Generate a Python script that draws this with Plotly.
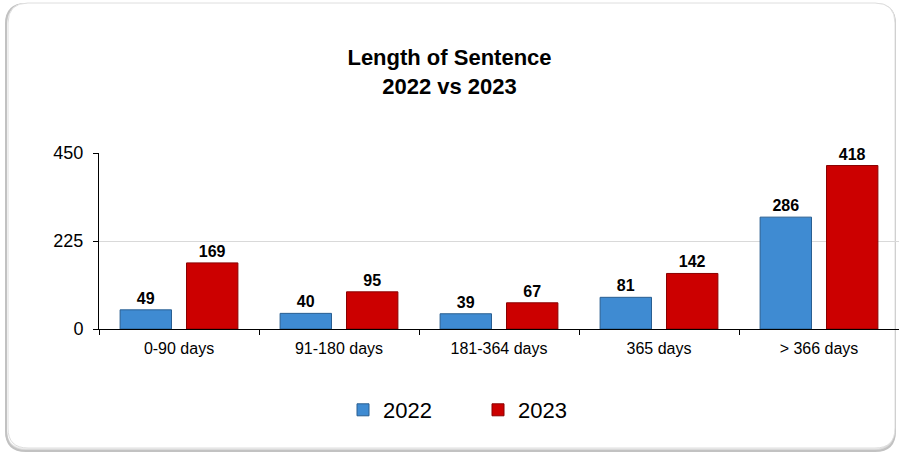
import plotly.graph_objects as go

categories = ["0-90 days", "91-180 days", "181-364 days", "365 days", "> 366 days"]
values_2022 = [49, 40, 39, 81, 286]
values_2023 = [169, 95, 67, 142, 418]
y_ticks = [0, 225, 450]

W, H = 899, 455
ML, MR, MT, MB = 99, 0, 153, 126
PW = W - ML - MR
PH = H - MT - MB


def px_x(x):
    return (x - ML) / PW


def px_y(y):
    return (H - MB - y) / PH


def rrect(x0, y0, x1, y1, r):
    def P(x, y):
        return f"{px_x(x):.5f},{px_y(y):.5f}"
    return (f"M {P(x0 + r, y0)} L {P(x1 - r, y0)} Q {P(x1, y0)} {P(x1, y0 + r)} "
            f"L {P(x1, y1 - r)} Q {P(x1, y1)} {P(x1 - r, y1)} "
            f"L {P(x0 + r, y1)} Q {P(x0, y1)} {P(x0, y1 - r)} "
            f"L {P(x0, y0 + r)} Q {P(x0, y0)} {P(x0 + r, y0)} Z")


label_font = dict(family="Liberation Sans, Arial", size=16, color="black", weight="bold")

fig = go.Figure()
fig.add_trace(go.Bar(
    name="2022", x=categories, y=values_2022,
    marker=dict(color="#3f8bd2", line=dict(color="#2a5f91", width=1)),
    text=values_2022, textposition="outside", cliponaxis=False,
    textfont=label_font,
))
fig.add_trace(go.Bar(
    name="2023", x=categories, y=values_2023,
    marker=dict(color="#cc0000", line=dict(color="#8a0000", width=1)),
    text=values_2023, textposition="outside", cliponaxis=False,
    textfont=label_font,
))

shapes = []
for i, c in enumerate(["#efefef", "#dadada", "#c2c2c2"]):
    d = 3 - i
    shapes.append(dict(type="path", xref="paper", yref="paper", layer="below",
                       path=rrect(6, 3 + d, 896 - d, 452 - d, 20),
                       line=dict(color=c, width=2), fillcolor="rgba(0,0,0,0)"))
shapes.append(dict(type="path", xref="paper", yref="paper", layer="below",
                   path=rrect(8, 3, 895, 448, 20),
                   line=dict(color="#dedede", width=1), fillcolor="white"))

fig.update_layout(
    width=W, height=H,
    margin=dict(l=ML, r=MR, t=MT, b=MB),
    paper_bgcolor="white", plot_bgcolor="rgba(0,0,0,0)",
    font=dict(family="Liberation Sans, Arial", color="black"),
    title=dict(text="Length of Sentence<br>2022 vs 2023", x=0.5, xanchor="center",
               y=1 - 65 / H, yanchor="middle",
               font=dict(family="Liberation Sans, Arial", size=22, color="black", weight="bold")),
    barmode="group", bargap=0.17, bargroupgap=0.226,
    showlegend=True,
    legend=dict(orientation="h", x=px_x(343), xanchor="left", y=px_y(410), yanchor="middle",
                font=dict(size=22, color="black"), entrywidth=90, bgcolor="rgba(0,0,0,0)",
                traceorder="normal"),
    shapes=shapes,
)
fig.update_xaxes(showline=True, linecolor="black", linewidth=1, ticks="outside",
                 tickson="boundaries", ticklen=5, tickcolor="black", ticklabelstandoff=5,
                 tickfont=dict(size=16, color="black"), showgrid=False)
fig.update_yaxes(range=[0, 450], tickvals=y_ticks, ticktext=[str(v) for v in y_ticks],
                 showline=True, linecolor="black", linewidth=1, ticks="outside",
                 ticklen=5, tickcolor="black", ticklabelstandoff=6,
                 showgrid=True, gridcolor="#d9d9d9",
                 zeroline=False, tickfont=dict(size=18, color="black"))

fig.write_html("out.html", config={"displayModeBar": False},
               post_script="document.body.style.margin='0';document.body.style.overflow='hidden';")
